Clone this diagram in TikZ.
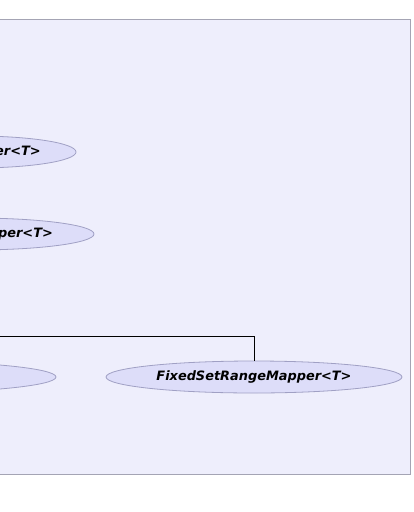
\documentclass[tikz,border=0pt]{standalone}
\usepackage{fontspec}
\setmainfont{DejaVu Sans}
\usetikzlibrary{shapes.geometric}
\definecolor{panelfill}{HTML}{EEEEFC}
\definecolor{panelline}{HTML}{A4A4B4}
\definecolor{ellfill}{HTML}{DDDDF9}
\definecolor{ellline}{HTML}{A0A0C4}
\tikzset{
  cls/.style={ellipse, draw=ellline, fill=ellfill, line width=0.8pt, inner sep=0pt,
    minimum height=32pt, font=\fontsize{12.9}{15}\selectfont\bfseries\itshape},
  conn/.style={draw=black, line width=0.9pt}
}
\begin{document}
\begin{tikzpicture}[x=1pt,y=-1pt]
\useasboundingbox (0,0) rectangle (413,512);
\clip (0,0) rectangle (413,512);
\draw[panelline, fill=panelfill, line width=1pt] (-20,19.5) rectangle (410.5,474);
\node[cls, minimum width=202pt] (a) at (-25,152) {RangeMapper<T>};
\node[cls, minimum width=240pt] (b) at (-26,234) {ListRangeMapper<T>};
\node[cls, minimum width=332pt] (c) at (-110,377) {SimpleRangeMapper<T>};
\node[cls, minimum width=296pt] (d) at (254,377) {FixedSetRangeMapper<T>};
\coordinate (j) at (-60,336);
\draw[conn] (j) -| (d.north);
\end{tikzpicture}
\end{document}
